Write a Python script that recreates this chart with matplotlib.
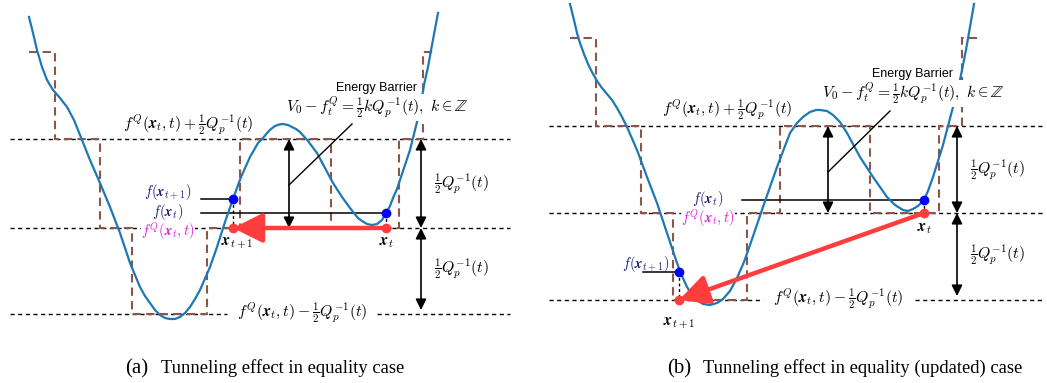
import matplotlib
matplotlib.use("Agg")
import matplotlib.pyplot as plt

plt.rcParams["mathtext.fontset"] = "cm"

# ---- panel (a): curve, quantised staircase, levels (picture pixel coords) ----
A_CURVE_X = [29, 33, 37, 42, 47, 53, 60, 67, 74, 80, 90, 100, 110, 120, 130, 140,
             145, 150, 155, 160, 165, 170, 175, 180, 185, 190, 195, 200, 210,
             217, 225, 233, 241, 250, 258, 263, 267, 271, 275, 279, 283, 288,
             292, 296, 300, 308, 317, 325, 333, 342, 350, 354, 358, 362, 367,
             372, 377, 382, 386, 390, 393, 397, 400, 405, 410, 415, 418, 420,
             424, 428, 432, 438]
A_CURVE_Y = [17, 33, 50, 67, 80, 90, 98, 107, 120, 135, 160, 183, 207, 233, 263, 287,
             296, 303, 310, 315, 318, 319, 319, 317, 313, 307, 299, 290, 267,
             247, 222, 199, 177, 157, 143, 138, 133, 129, 126, 124.5, 124, 125,
             127, 129, 132, 141, 153, 168, 183, 197, 208, 213, 218, 221, 224,
             225, 224, 220, 213, 206, 198, 189, 180, 165, 150, 130, 118, 110,
             85, 67, 45, 13]
A_STEP_EDGES = [29, 55, 100, 132, 207, 240, 331, 399, 423, 437]
A_STEP_Y = [52, 139, 228, 314, 228, 139, 228, 139, 52]
A_LEVELS = [139, 228, 314]
A_XSPAN = [10, 510]
A_LOWER_GAP = [227, 377]
A_XT, A_XT1 = 386, 233
A_F_XT, A_F_XT1 = 213, 199

# ---- panel (b) ----
B_CURVE_X = [570, 574, 577, 580, 584, 588, 592, 597, 602, 607, 612, 617, 622, 627,
             637, 647, 657, 667, 672, 677, 682, 687, 692, 697, 703, 710, 717,
             723, 730, 737, 744, 750, 763, 777, 790, 797, 803, 810, 816, 820,
             827, 833, 840, 847, 860, 873, 887, 895, 903, 908, 913, 918, 924,
             928, 933, 943, 953, 960, 966, 974]
B_CURVE_Y = [4, 20, 33, 43, 54, 64, 72, 81, 88, 94, 100, 108, 117, 127,
             150, 177, 203, 233, 248, 263, 276, 287, 295, 300, 304, 305, 303,
             299, 291, 278, 262, 245, 207, 167, 133, 123, 117, 112, 110, 110,
             111, 115, 122, 133, 157, 177, 197, 205, 210, 211, 209, 206, 200,
             191, 177, 145, 107, 80, 50, 4]
B_STEP_EDGES = [570, 596, 641, 673, 747, 780, 870, 939, 962, 977]
B_STEP_Y = [38, 126, 213, 300, 213, 126, 213, 126, 38]
B_LEVELS = [126, 213, 300]
B_XSPAN = [549, 1043]
B_LOWER_GAP = [763, 915]
B_XT, B_XT1 = 924, 679
B_F_XT, B_F_XT1 = 200, 272

BLUE = "#1f77b4"
BROWN = "#8c564b"
RED = "#ff3d3d"
NAVY = "#1c1c7a"
MAGENTA = "#e020e0"

X = r"\mathbfit{x}"
UPPER = r"$f^Q(" + X + r"_t,t)+\frac{1}{2}Q_p^{-1}(t)$"
LOWER = r"$f^Q(" + X + r"_t,t)-\frac{1}{2}Q_p^{-1}(t)$"
HALF_Q = r"$\frac{1}{2}Q_p^{-1}(t)$"
BARRIER = r"$V_0-f_t^Q=\frac{1}{2}kQ_p^{-1}(t),\ k\in\mathbb{Z}$"
F_XT = r"$f(" + X + r"_t)$"
F_XT1 = r"$f(" + X + r"_{t+1})$"
FQ = r"$f^Q(" + X + r"_t,t)$"

fig = plt.figure(figsize=(10.47, 3.83), dpi=100)
ax = fig.add_axes([0, 0, 1, 1])
ax.set_xlim(0, 1047)
ax.set_ylim(383, 0)
ax.axis("off")

tight = dict(fc="white", ec="none", pad=0.3)
dash = (0, (3, 2.5))
FS = 11.3
FS_F = 10.4


def dbl_arrow(x, y0, y1):
    ax.annotate("", xy=(x, y1), xytext=(x, y0),
                arrowprops=dict(arrowstyle="<|-|>", color="black", lw=1.2,
                                mutation_scale=16, shrinkA=0, shrinkB=0),
                zorder=4)


def panel(cx, cy, edges, steps, levels, xspan, gap, xt, xt1, f_xt, f_xt1,
          pos):
    up, mid, low = levels
    # reference levels
    ax.plot(xspan, [up, up], color="black", lw=1, ls=dash, zorder=1)
    ax.plot(xspan, [mid, mid], color="black", lw=1, ls=dash, zorder=1)
    ax.plot([xspan[0], gap[0]], [low, low], color="black", lw=1, ls=dash, zorder=1)
    ax.plot([gap[1], xspan[1]], [low, low], color="black", lw=1, ls=dash, zorder=1)
    # quantised staircase and objective curve
    ax.stairs(steps, edges, baseline=None, color=BROWN, lw=1.5,
              ls=(0, (4, 2.5)), zorder=2)
    ax.plot(cx, cy, color=BLUE, lw=1.6, zorder=3, solid_joinstyle="round")

    # function value guides
    ax.plot([pos["fline"], xt], [f_xt, f_xt], color="black", lw=1.1, zorder=2)
    ax.plot([pos["f1line"], xt1], [f_xt1, f_xt1], color="black", lw=1.1, zorder=2)
    ax.plot([xt, xt], [f_xt, mid], color="black", lw=1, ls=(0, (2, 2)), zorder=3)
    ax.plot([xt1, xt1], [f_xt1, pos["y1"]], color="black", lw=1, ls=(0, (2, 2)),
            zorder=3)

    # energy barrier and level-gap arrows
    bx = pos["bx"]
    dbl_arrow(bx, up, mid)
    ax.plot([bx, pos["lead"][0]], [pos["lead"][1], pos["lead"][2]],
            color="black", lw=1, zorder=4)
    rx = pos["rx"]
    dbl_arrow(rx, up, mid)
    dbl_arrow(rx, mid, low - 4)

    # jump x_t -> x_{t+1}
    ax.annotate("", xy=(xt1, pos["y1"]), xytext=(xt, mid),
                arrowprops=dict(arrowstyle="-|>,head_length=0.9,head_width=0.45",
                                color=RED, lw=3.2, mutation_scale=20,
                                shrinkA=0, shrinkB=0), zorder=5)
    ax.plot([xt, xt1], [f_xt, f_xt1], "o", color="#0000ff", ms=6, zorder=6)
    ax.plot([xt, xt1], [mid, pos["y1"]], "o", color=RED, ms=6, zorder=6)

    # labels
    ax.text(*pos["upper"], UPPER, ha="center", va="center", fontsize=FS,
            zorder=7)
    ax.text(*pos["lower"], LOWER, ha="center", va="center", fontsize=FS,
            zorder=7)
    ax.text(pos["eb"][0], pos["eb"][1], "Energy Barrier", ha="center",
            va="baseline", fontsize=9, family="Liberation Sans", bbox=tight,
            zorder=8)
    ax.text(pos["eb"][0], pos["eb"][1] + 21, BARRIER, ha="center",
            va="baseline", fontsize=FS, bbox=tight, zorder=7)
    ax.text(rx + 41, (up + mid) / 2, HALF_Q, ha="center", va="center", fontsize=FS)
    ax.text(rx + 41, (mid + low) / 2 - 2, HALF_Q, ha="center", va="center",
            fontsize=FS)
    fx, fy = pos["ftext"]
    ax.text(fx, fy, F_XT, ha="center", va="baseline", fontsize=FS_F, color=NAVY,
            zorder=7)
    ax.text(fx, fy + 20, FQ, ha="center", va="baseline", fontsize=FS_F,
            color=MAGENTA, bbox=tight, zorder=6)
    ax.text(*pos["fxt1"], F_XT1, ha="center", va="baseline", fontsize=FS_F,
            color=NAVY, zorder=7)
    ax.text(xt, mid + 15, "$" + X + "_t$", ha="center", va="center", fontsize=FS)
    ax.text(*pos["xt1lab"], "$" + X + "_{t+1}$", ha="center", va="center",
            fontsize=FS)


panel(A_CURVE_X, A_CURVE_Y, A_STEP_EDGES, A_STEP_Y, A_LEVELS, A_XSPAN,
      A_LOWER_GAP, A_XT, A_XT1, A_F_XT, A_F_XT1,
      dict(fline=201, f1line=201, y1=228, bx=289, lead=(352, 185, 124), rx=421,
           upper=(188, 125), lower=(302, 313), eb=(377, 91), ftext=(168, 216),
           fxt1=(168, 196), xt1lab=(237, 243)))
panel(B_CURVE_X, B_CURVE_Y, B_STEP_EDGES, B_STEP_Y, B_LEVELS, B_XSPAN,
      B_LOWER_GAP, B_XT, B_XT1, B_F_XT, B_F_XT1,
      dict(fline=742, f1line=643, y1=300, bx=828, lead=(890, 172, 111), rx=957,
           upper=(727, 110), lower=(838, 299), eb=(913, 77), ftext=(708, 203),
           fxt1=(646, 268), xt1lab=(679, 323)))

# captions
for x0, tag, text in [(125, "(a)", "Tunneling effect in equality case"),
                      (667, "(b)", "Tunneling effect in equality (updated) case")]:
    ax.text(x0, 373, tag, fontsize=15, family="Liberation Serif", va="baseline")
    ax.text(x0 + 36, 373, text, fontsize=13.4, family="Liberation Serif",
            va="baseline")

fig.savefig("out.png", dpi=100)
